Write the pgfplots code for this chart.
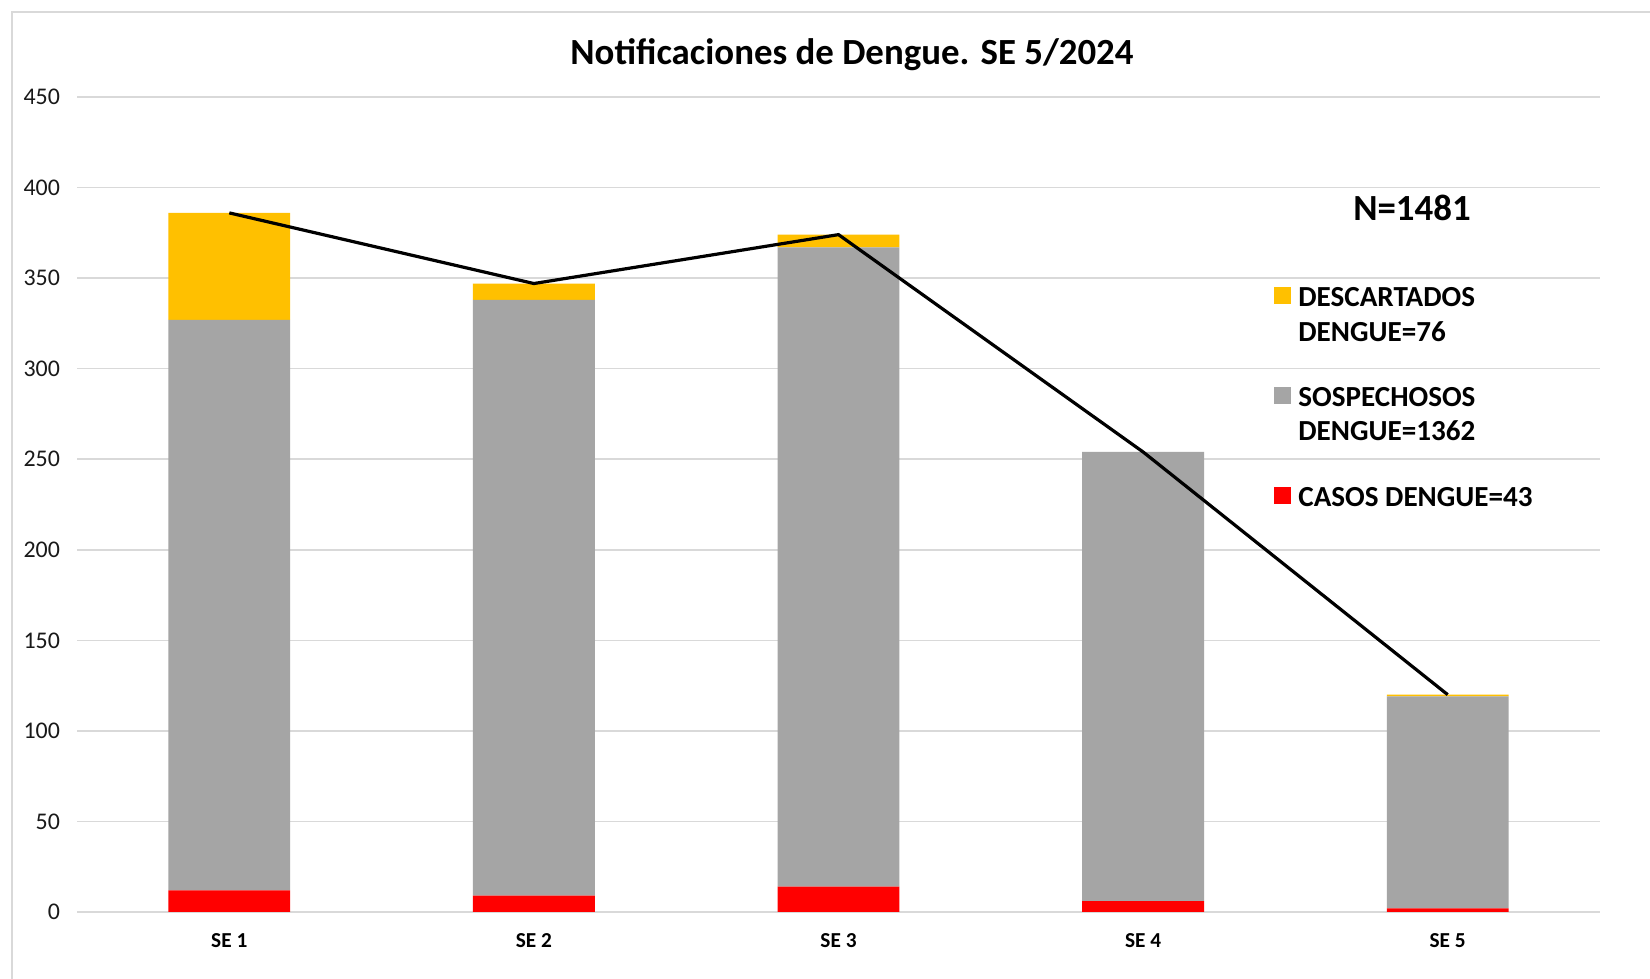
\documentclass[border=0pt]{standalone}
\usepackage{pgfplots}
\pgfplotsset{compat=1.18}
\usepackage{fontspec}
\setmainfont{Carlito}
\definecolor{cyellow}{HTML}{FFC000}
\definecolor{cgray}{HTML}{A5A5A5}
\definecolor{cred}{HTML}{FF0000}
\definecolor{gridgray}{HTML}{D9D9D9}
\begin{document}
\begin{tikzpicture}
\path[use as bounding box] (0,0) rectangle (825bp,489.5bp);
\fill[white] (0,0) rectangle (825bp,489.5bp);
\draw[gridgray, line width=1bp] (6bp,-10bp) rectangle (840bp,483.5bp);
\begin{axis}[
  at={(38.5bp,33.5bp)}, anchor=south west, scale only axis,
  width=761.5bp, height=407.5bp,
  ybar stacked, bar width=0.4,
  xmin=-0.5, xmax=4.5, ymin=0, ymax=450,
  xtick={0,1,2,3,4},
  xticklabels={SE 1,SE 2,SE 3,SE 4,SE 5},
  ytick={0,50,...,450},
  axis line style={draw=none},
  major tick length=0pt,
  ymajorgrids, grid style={gridgray, line width=0.8bp},
  /pgf/number format/assume math mode=true,
  yticklabel style={font=\fontsize{12}{14}\selectfont, text=black!90, xshift=-5bp},
  xticklabel style={font=\bfseries\fontsize{10.7}{12}\selectfont, yshift=-7bp},
]
\addplot[fill=cred, draw=none] coordinates {(0,12) (1,9) (2,14) (3,6) (4,2)};
\addplot[fill=cgray, draw=none] coordinates {(0,315) (1,329) (2,353) (3,248) (4,117)};
\addplot[fill=cyellow, draw=none] coordinates {(0,59) (1,9) (2,7) (3,0) (4,1)};
\end{axis}
\begin{axis}[
  at={(38.5bp,33.5bp)}, anchor=south west, scale only axis,
  width=761.5bp, height=407.5bp,
  xmin=-0.5, xmax=4.5, ymin=0, ymax=450, hide axis,
]
\addplot[black, line width=1.6bp, mark=none] coordinates {(0,386) (1,347) (2,374) (3,254) (4,120)};
\end{axis}
\node[font=\bfseries\fontsize{18.5}{22}\selectfont] at (426bp,462bp) {Notificaciones de Dengue. SE 5/2024};
\node[font=\bfseries\fontsize{18.5}{22}\selectfont] at (706bp,385.5bp) {N=1481};
\fill[cyellow] (637bp,337.5bp) rectangle (645.5bp,346bp);
\fill[cgray] (637bp,287.5bp) rectangle (645.5bp,296bp);
\fill[cred] (637bp,237.5bp) rectangle (645.5bp,246bp);
\begin{scope}[every node/.style={anchor=west, inner sep=0pt, font=\bfseries\fontsize{14.6}{17}\selectfont}]
\node at (649bp,341bp) {DESCARTADOS};
\node at (649bp,323.5bp) {DENGUE=76};
\node at (649bp,291bp) {SOSPECHOSOS};
\node at (649bp,274bp) {DENGUE=1362};
\node at (649bp,241bp) {CASOS DENGUE=43};
\end{scope}
\end{tikzpicture}
\end{document}
